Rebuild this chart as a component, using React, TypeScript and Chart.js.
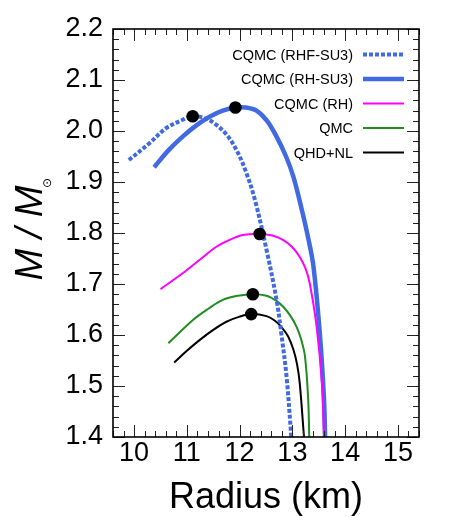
import React, { useEffect, useRef } from "react";
import { Chart, registerables } from "chart.js";

Chart.register(...registerables);

// ---- Data ----
const rhfSu3X = [9.90, 10.29, 10.60, 10.92, 11.11, 11.37, 11.56, 11.76, 11.94, 12.12, 12.29, 12.51, 12.70, 12.79, 12.89, 12.98];
const rhfSu3Y = [1.943, 1.976, 2.005, 2.022, 2.029, 2.024, 2.012, 1.992, 1.963, 1.920, 1.865, 1.767, 1.669, 1.603, 1.518, 1.40];

const rhSu3X = [10.38, 10.65, 10.92, 11.18, 11.43, 11.68, 11.92, 12.12, 12.32, 12.52, 12.70, 12.88, 13.02, 13.18, 13.30, 13.40, 13.52, 13.60, 13.62];
const rhSu3Y = [1.929, 1.962, 1.989, 2.011, 2.028, 2.040, 2.046, 2.046, 2.040, 2.020, 1.989, 1.950, 1.910, 1.845, 1.790, 1.734, 1.603, 1.473, 1.40];

const rhX = [10.50, 10.92, 11.25, 11.56, 11.82, 12.06, 12.38, 12.62, 12.83, 13.00, 13.14, 13.25, 13.33, 13.46, 13.56, 13.60];
const rhY = [1.690, 1.721, 1.748, 1.773, 1.787, 1.796, 1.798, 1.795, 1.786, 1.772, 1.753, 1.730, 1.701, 1.616, 1.505, 1.40];

const qmcX = [10.65, 11.11, 11.40, 11.68, 11.97, 12.25, 12.51, 12.70, 12.83, 12.96, 13.08, 13.17, 13.24, 13.30, 13.32];
const qmcY = [1.584, 1.629, 1.651, 1.669, 1.677, 1.680, 1.677, 1.667, 1.655, 1.638, 1.616, 1.590, 1.557, 1.473, 1.40];

const qhdX = [10.76, 11.00, 11.24, 11.50, 11.75, 12.00, 12.22, 12.51, 12.67, 12.79, 12.92, 13.02, 13.09, 13.14, 13.22];
const qhdY = [1.546, 1.569, 1.590, 1.610, 1.626, 1.636, 1.641, 1.637, 1.628, 1.616, 1.597, 1.571, 1.542, 1.505, 1.40];

const maxMassX = [11.11, 11.92, 12.38, 12.25, 12.22];
const maxMassY = [2.029, 2.046, 1.798, 1.680, 1.641];

const seriesLabels = ["CQMC (RHF-SU3)", "CQMC (RH-SU3)", "CQMC (RH)", "QMC", "QHD+NL"];

const xTickValues = [10, 11, 12, 13, 14, 15];
const yTickValues = [1.4, 1.5, 1.6, 1.7, 1.8, 1.9, 2.0, 2.1, 2.2];

const xTitle = "Radius (km)";
const yTitleMain = "M / M";
const yTitleSub = "\u2299";

const FONT = "'Liberation Sans', Arial, Helvetica, sans-serif";

const pts = (xs: number[], ys: number[]) => xs.map((x, i) => ({ x, y: ys[i] }));

const framePlugin = {
  id: "frameAndDecor",
  afterDraw(chart: any) {
    const { ctx, chartArea: a, scales } = chart;
    const xs = scales.x;
    const ys = scales.y;
    ctx.save();
    // ticks (inward, all four sides)
    ctx.strokeStyle = "#222";
    ctx.lineWidth = 1;
    const xMin = xs.min, xMax = xs.max, yMin = ys.min, yMax = ys.max;
    const xStep = 0.2;
    for (let k = Math.ceil(xMin / xStep - 1e-6); k * xStep <= xMax + 1e-6; k++) {
      const v = k * xStep;
      const major = Math.abs(v - Math.round(v)) < 1e-6;
      const len = major ? 12 : 6;
      const px = Math.round(xs.getPixelForValue(v)) + 0.5;
      ctx.beginPath();
      ctx.moveTo(px, a.bottom);
      ctx.lineTo(px, a.bottom - len);
      ctx.moveTo(px, a.top);
      ctx.lineTo(px, a.top + len);
      ctx.stroke();
    }
    const yStep = 0.02;
    for (let k = Math.ceil(yMin / yStep - 1e-6); k * yStep <= yMax + 1e-6; k++) {
      const v = k * yStep;
      const major = Math.abs(v * 10 - Math.round(v * 10)) < 1e-6;
      const len = major ? 12 : 6;
      const py = Math.round(ys.getPixelForValue(v)) + 0.5;
      ctx.beginPath();
      ctx.moveTo(a.left, py);
      ctx.lineTo(a.left + len, py);
      ctx.moveTo(a.right, py);
      ctx.lineTo(a.right - len, py);
      ctx.stroke();
    }
    // frame
    ctx.strokeStyle = "#000";
    ctx.lineWidth = 1.6;
    ctx.strokeRect(a.left, a.top, a.right - a.left, a.bottom - a.top);

    // legend (text right-aligned, sample line on the right)
    const textRight = 353;
    const lineStart = 363;
    const lineEnd = 404;
    const firstY = 54.5;
    const rowGap = 24.5;
    ctx.font = `14.5px ${FONT}`;
    ctx.textAlign = "right";
    ctx.textBaseline = "middle";
    chart.data.datasets.forEach((ds: any, i: number) => {
      if (ds.isMarkers) return;
      const y = firstY + i * rowGap;
      ctx.fillStyle = "#000";
      ctx.fillText(ds.label, textRight, y + 1);
      ctx.save();
      ctx.strokeStyle = ds.borderColor;
      ctx.lineWidth = ds.borderWidth;
      ctx.setLineDash(ds.borderDash || []);
      ctx.beginPath();
      ctx.moveTo(lineStart, y);
      ctx.lineTo(lineEnd, y);
      ctx.stroke();
      ctx.restore();
    });

    // x title
    ctx.fillStyle = "#000";
    ctx.font = `36px ${FONT}`;
    ctx.textAlign = "center";
    ctx.textBaseline = "alphabetic";
    ctx.fillText(xTitle, (a.left + a.right) / 2, 508);

    // y title (rotated, italic) with solar-mass symbol
    const cy = (a.top + a.bottom) / 2;
    ctx.save();
    ctx.translate(41.5, cy);
    ctx.rotate(-Math.PI / 2);
    ctx.font = `italic 38px ${FONT}`;
    ctx.textAlign = "center";
    ctx.textBaseline = "alphabetic";
    ctx.fillText(yTitleMain, 0, 0);
    ctx.font = `12px 'DejaVu Sans', sans-serif`;
    ctx.textBaseline = "middle";
    ctx.fillText(yTitleSub, 50, 6);
    ctx.restore();

    ctx.restore();
  },
};

export default function App() {
  const ref = useRef<HTMLCanvasElement | null>(null);
  useEffect(() => {
    if (!ref.current) return;
    const blue = "#4169E1";
    const line = (label: string, xs: number[], ys: number[], color: string, width: number, dash: number[] = []) => ({
      label,
      data: pts(xs, ys),
      showLine: true,
      borderColor: color,
      backgroundColor: color,
      borderWidth: width,
      borderDash: dash,
      pointRadius: 0,
      pointHoverRadius: 0,
      fill: false,
      tension: 0.35,
    });
    const chart = new Chart(ref.current, {
      type: "scatter",
      data: {
        datasets: [
          { ...line(seriesLabels[0], rhfSu3X, rhfSu3Y, blue, 4, [4, 2]), order: 2 },
          { ...line(seriesLabels[1], rhSu3X, rhSu3Y, blue, 4.5), order: 5 },
          { ...line(seriesLabels[2], rhX, rhY, "#FF00FF", 2), order: 4 },
          { ...line(seriesLabels[3], qmcX, qmcY, "#228B22", 2), order: 3 },
          { ...line(seriesLabels[4], qhdX, qhdY, "#000000", 2), order: 3 },
          {
            label: "max",
            isMarkers: true,
            data: pts(maxMassX, maxMassY),
            showLine: false,
            pointRadius: 6.3,
            pointHoverRadius: 6.3,
            pointBackgroundColor: "#000",
            pointBorderWidth: 0,
            order: 0,
          } as any,
        ] as any,
      },
      options: {
        animation: false,
        responsive: false,
        devicePixelRatio: 1,
        events: [],
        layout: { padding: { left: 0, top: 29, right: 31, bottom: 0 } },
        plugins: { legend: { display: false }, tooltip: { enabled: false }, title: { display: false } },
        scales: {
          x: {
            type: "linear",
            min: 9.6,
            max: 15.4,
            grid: { display: false, drawTicks: false },
            border: { display: false },
            afterBuildTicks: (s: any) => {
              s.ticks = xTickValues.map((v) => ({ value: v }));
            },
            afterFit: (s: any) => {
              s.height = 88;
            },
            ticks: {
              autoSkip: false,
              maxRotation: 0,
              padding: 0,
              color: "#000",
              font: { family: FONT, size: 27 },
              callback: (v: any) => String(v),
            },
          },
          y: {
            type: "linear",
            min: 1.4,
            max: 2.2,
            grid: { display: false, drawTicks: false },
            border: { display: false },
            afterBuildTicks: (s: any) => {
              s.ticks = yTickValues.map((v) => ({ value: v }));
            },
            afterFit: (s: any) => {
              s.width = 113;
            },
            ticks: {
              autoSkip: false,
              padding: 10,
              color: "#000",
              font: { family: FONT, size: 27 },
              callback: (v: any) => Number(v).toFixed(1),
            },
          },
        },
      } as any,
      plugins: [framePlugin],
    });
    return () => chart.destroy();
  }, []);
  return (
    <div style={{ position: "absolute", left: 0, top: 0, width: 450, height: 525, background: "#fff" }}>
      <canvas ref={ref} width={450} height={525} style={{ display: "block", width: 450, height: 525 }} />
    </div>
  );
}
